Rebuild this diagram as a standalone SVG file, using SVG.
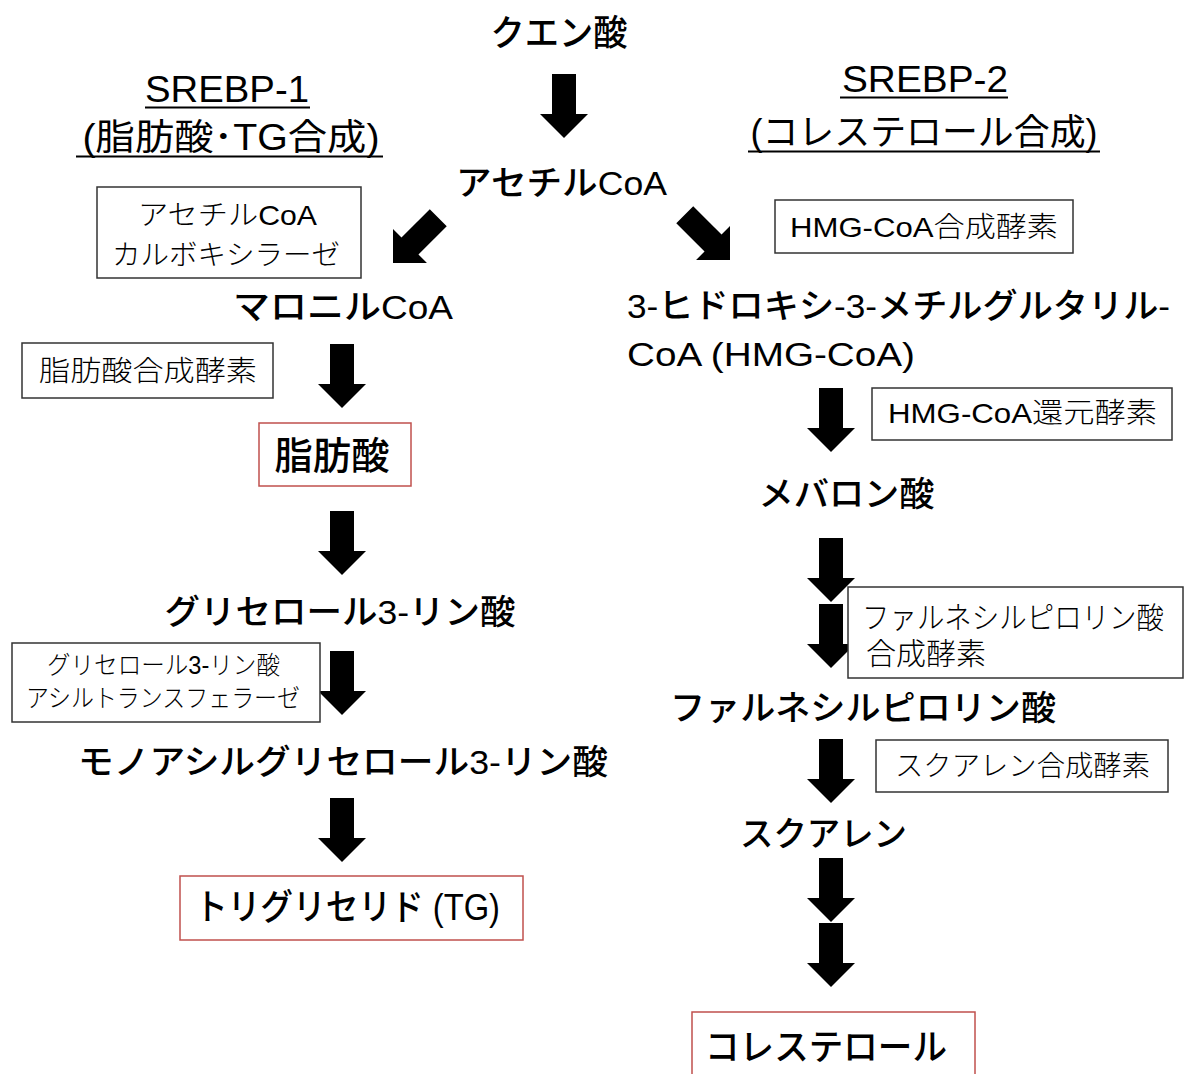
<svg xmlns="http://www.w3.org/2000/svg" xmlns:xlink="http://www.w3.org/1999/xlink" width="1184" height="1074" viewBox="0 0 1184 1074">
<style>
.lbl{font-family:"Liberation Sans","Noto Sans CJK JP",sans-serif;font-size:34px;fill:#000;font-weight:500}
.hdr{font-family:"Liberation Sans","Noto Sans CJK JP",sans-serif;font-size:34px;fill:#000}
.enz{font-family:"Liberation Sans","Noto Sans CJK JP",sans-serif;font-size:28px;fill:#000;font-weight:300}
.box{fill:#fff;stroke:#333;stroke-width:1.5}
.rbox{fill:#fff;stroke:#c0504d;stroke-width:1.5}
.ul{stroke:#000;stroke-width:2}
.arr{fill:#000}
</style>
<defs>
<path id="arrow" class="arr" d="M-12,-64 H12 V-24 H24 L0,0 L-24,-24 H-12 Z"/>
</defs>
<rect width="1184" height="1074" fill="#fff"/>

<g id="connectors">
<use xlink:href="#arrow" href="#arrow" transform="translate(564,138)"/>
<use xlink:href="#arrow" href="#arrow" transform="translate(393,263) rotate(45)"/>
<use xlink:href="#arrow" href="#arrow" transform="translate(730,260) rotate(-45)"/>
<use xlink:href="#arrow" href="#arrow" transform="translate(342,408)"/>
<use xlink:href="#arrow" href="#arrow" transform="translate(342,575)"/>
<use xlink:href="#arrow" href="#arrow" transform="translate(342,715)"/>
<use xlink:href="#arrow" href="#arrow" transform="translate(342,862)"/>
<use xlink:href="#arrow" href="#arrow" transform="translate(831,452)"/>
<use xlink:href="#arrow" href="#arrow" transform="translate(831,602)"/>
<use xlink:href="#arrow" href="#arrow" transform="translate(831,668)"/>
<use xlink:href="#arrow" href="#arrow" transform="translate(831,803)"/>
<use xlink:href="#arrow" href="#arrow" transform="translate(831,922)"/>
<use xlink:href="#arrow" href="#arrow" transform="translate(831,987)"/>
</g>

<g id="citrate"><text class="lbl" x="559" y="46" text-anchor="middle" textLength="137" lengthAdjust="spacingAndGlyphs" style="font-size:36px">クエン酸</text></g>

<g id="srebp1">
<text class="hdr" x="227" y="102" text-anchor="middle" textLength="164" lengthAdjust="spacingAndGlyphs" style="font-size:36px">SREBP-1</text>
<line class="ul" x1="145" y1="107.5" x2="310" y2="107.5"/>
<text class="hdr" x="231" y="150" text-anchor="middle" textLength="297" lengthAdjust="spacingAndGlyphs" style="font-size:36px">(脂肪酸･TG合成)</text>
<line class="ul" x1="76" y1="156.5" x2="383" y2="156.5"/>
</g>

<g id="srebp2">
<text class="hdr" x="925" y="92" text-anchor="middle" textLength="166" lengthAdjust="spacingAndGlyphs" style="font-size:36px">SREBP-2</text>
<line class="ul" x1="840" y1="97.5" x2="1008" y2="97.5"/>
<text class="hdr" x="924" y="145" text-anchor="middle" textLength="347" lengthAdjust="spacingAndGlyphs" style="font-size:36px">(コレステロール合成)</text>
<line class="ul" x1="748" y1="151.5" x2="1100" y2="151.5"/>
</g>

<g id="acetylcoa"><text class="lbl" x="561.5" y="195" text-anchor="middle" textLength="211" lengthAdjust="spacingAndGlyphs">アセチルCoA</text></g>

<g id="enz-acc">
<rect class="box" x="97" y="187" width="264" height="91"/>
<text class="enz" x="227.5" y="225" text-anchor="middle" textLength="179" lengthAdjust="spacingAndGlyphs">アセチルCoA</text>
<text class="enz" x="226" y="265" text-anchor="middle" textLength="228" lengthAdjust="spacingAndGlyphs">カルボキシラーゼ</text>
</g>

<g id="enz-hmgcs">
<rect class="box" x="775" y="200" width="298" height="53"/>
<text class="enz" x="924" y="237" text-anchor="middle" textLength="268" lengthAdjust="spacingAndGlyphs">HMG-CoA合成酵素</text>
</g>

<g id="malonylcoa"><text class="lbl" x="343" y="319" text-anchor="middle" textLength="220" lengthAdjust="spacingAndGlyphs">マロニルCoA</text></g>

<g id="enz-fas">
<rect class="box" x="22" y="343" width="251" height="55"/>
<text class="enz" x="148" y="381" text-anchor="middle" textLength="218" lengthAdjust="spacingAndGlyphs">脂肪酸合成酵素</text>
</g>

<g id="fattyacid">
<rect class="rbox" x="259" y="423" width="152" height="63"/>
<text class="lbl" x="332" y="469" text-anchor="middle" textLength="115" lengthAdjust="spacingAndGlyphs" style="font-size:38px">脂肪酸</text>
</g>

<g id="g3p"><text class="lbl" x="340" y="624" text-anchor="middle" textLength="351" lengthAdjust="spacingAndGlyphs">グリセロール3-リン酸</text></g>

<g id="enz-gpat">
<rect class="box" x="12" y="643" width="308" height="79"/>
<text class="enz" x="163.5" y="674" text-anchor="middle" textLength="233" lengthAdjust="spacingAndGlyphs" style="font-size:25px">グリセロール3-リン酸</text>
<text class="enz" x="163" y="707" text-anchor="middle" textLength="274" lengthAdjust="spacingAndGlyphs" style="font-size:25px">アシルトランスフェラーゼ</text>
</g>

<g id="lpa"><text class="lbl" x="343" y="774" text-anchor="middle" textLength="530" lengthAdjust="spacingAndGlyphs">モノアシルグリセロール3-リン酸</text></g>

<g id="tg">
<rect class="rbox" x="180" y="876" width="343" height="64"/>
<text class="lbl" x="347.5" y="920" text-anchor="middle" textLength="305" lengthAdjust="spacingAndGlyphs" style="font-size:36px">トリグリセリド (TG)</text>
</g>

<g id="hmgcoa">
<text class="lbl" x="627" y="318" textLength="543" lengthAdjust="spacingAndGlyphs">3-ヒドロキシ-3-メチルグルタリル-</text>
<text class="lbl" x="627" y="366" textLength="288" lengthAdjust="spacingAndGlyphs">CoA (HMG-CoA)</text>
</g>

<g id="enz-hmgcr">
<rect class="box" x="872" y="388" width="300" height="52"/>
<text class="enz" x="1022.5" y="423" text-anchor="middle" textLength="269" lengthAdjust="spacingAndGlyphs">HMG-CoA還元酵素</text>
</g>

<g id="mevalonate"><text class="lbl" x="846.5" y="506" text-anchor="middle" textLength="176" lengthAdjust="spacingAndGlyphs">メバロン酸</text></g>

<g id="enz-fpps">
<rect class="box" x="848" y="587" width="335" height="91"/>
<text class="enz" x="862" y="628" textLength="302" lengthAdjust="spacingAndGlyphs" style="font-size:30px">ファルネシルピロリン酸</text>
<text class="enz" x="866" y="664" style="font-size:30px">合成酵素</text>
</g>

<g id="fpp"><text class="lbl" x="670" y="720" textLength="386" lengthAdjust="spacingAndGlyphs">ファルネシルピロリン酸</text></g>

<g id="enz-sqs">
<rect class="box" x="876" y="740" width="292" height="52"/>
<text class="enz" x="1022.5" y="776" text-anchor="middle" textLength="255" lengthAdjust="spacingAndGlyphs">スクアレン合成酵素</text>
</g>

<g id="squalene"><text class="lbl" x="823.5" y="846" text-anchor="middle" textLength="167" lengthAdjust="spacingAndGlyphs">スクアレン</text></g>

<g id="cholesterol">
<rect class="rbox" x="692" y="1012" width="283" height="70"/>
<text class="lbl" x="826" y="1060" text-anchor="middle" textLength="242" lengthAdjust="spacingAndGlyphs" style="font-size:36px">コレステロール</text>
</g>
</svg>
